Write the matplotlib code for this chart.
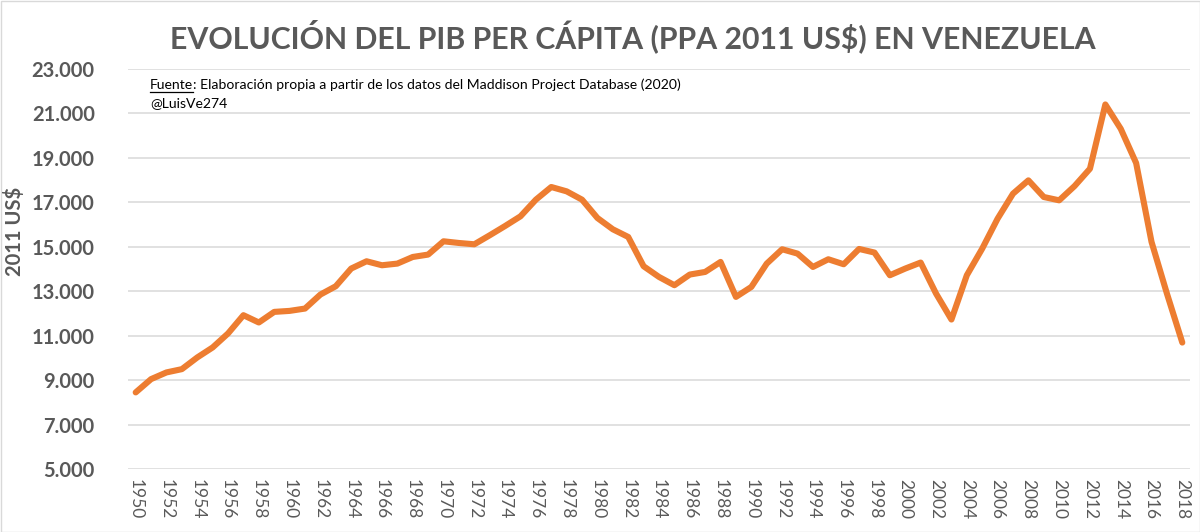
import matplotlib
matplotlib.use("Agg")
import matplotlib.pyplot as plt
from matplotlib.lines import Line2D
from matplotlib.patches import Rectangle
from matplotlib.ticker import FuncFormatter

years = list(range(1950, 2019))
gdp_pc = [8447, 9045, 9346, 9494, 10020, 10470, 11100, 11921, 11593, 12070,
          12115, 12220, 12850, 13225, 14020, 14348, 14168, 14243, 14541, 14649,
          15247, 15171, 15112, 15517, 15935, 16371, 17120, 17690, 17494, 17120,
          16295, 15787, 15442, 14124, 13643, 13270, 13750, 13868, 14318, 12745,
          13194, 14243, 14888, 14693, 14093, 14438, 14213, 14903, 14740, 13719,
          14020, 14290, 12895, 11727, 13719, 14918, 16266, 17390, 17989, 17240,
          17090, 17733, 18513, 21404, 20310, 18768, 15221, 12895, 10690]
ytick_values = list(range(5000, 23001, 2000))
xtick_years = list(range(1950, 2019, 2))

title = "EVOLUCIÓN DEL PIB PER CÁPITA (PPA 2011 US$) EN VENEZUELA"
ylabel = "2011 US$"
source_word = "Fuente"
source_rest = ": Elaboración propia a partir de los datos del Maddison Project Database (2020)"
handle = "@LuisVe274"

FONT = ["Lato", "DejaVu Sans"]
plt.rcParams['font.family'] = FONT
gray = "#595959"

fig = plt.figure(figsize=(12, 5.32), dpi=100)
fig.patch.set_facecolor("white")
ax = fig.add_axes([128/1200, 1-469/532, (1190-128)/1200, (469-69)/532])

ax.plot(years, gdp_pc, color="#ED7D31", lw=4.4, solid_capstyle="round",
        solid_joinstyle="round", zorder=3)

ax.set_xlim(1949.5, 2018.5)
ax.set_ylim(5000, 23000)
ax.set_yticks(ytick_values)
ax.yaxis.set_major_formatter(FuncFormatter(lambda v, p: f"{int(v):,}".replace(",", ".")))
ax.set_xticks(xtick_years)
ax.set_xticklabels([str(y) for y in xtick_years], rotation=270, fontsize=12.5,
                   color=gray)
for lab in ax.get_yticklabels():
    lab.set_fontsize(14.5)
    lab.set_fontweight("bold")
    lab.set_color(gray)
ax.tick_params(axis="both", length=0)
ax.tick_params(axis="y", pad=24)
ax.tick_params(axis="x", pad=7)
ax.grid(axis="y", color="#D9D9D9", lw=1.1, zorder=0)
for s in ax.spines.values():
    s.set_visible(False)

fig.text(15/1200, 1-231/532, ylabel, rotation=90, ha="center", va="center",
         fontsize=14.5, fontweight="bold", color=gray)

fig.text(633/1200, 1-36/532, title, ha="center", va="center", fontsize=21.8,
         fontweight="bold", color=gray)

fs = 10.1
t1 = fig.text(150/1200, 1-85/532, source_word, ha="left", va="center",
              fontsize=fs, color="black")
fig.canvas.draw()
bb = t1.get_window_extent()
fig.text(bb.x1/1200, 1-85/532, source_rest, ha="left", va="center",
         fontsize=fs, color="black")
uy = (532 - 92) / 532
fig.add_artist(Line2D([bb.x0/1200, bb.x1/1200], [uy, uy],
                      color="black", lw=0.9, transform=fig.transFigure))
fig.text(150/1200, 1-103/532, handle, ha="left", va="center", fontsize=fs,
         color="black")

fig.add_artist(Rectangle((0.5/1200, 0.5/532), 1-1/1200, 1-1/532, fill=False,
                         edgecolor="#D9D9D9", lw=1, transform=fig.transFigure))

fig.savefig("out.png", dpi=100, facecolor="white")
